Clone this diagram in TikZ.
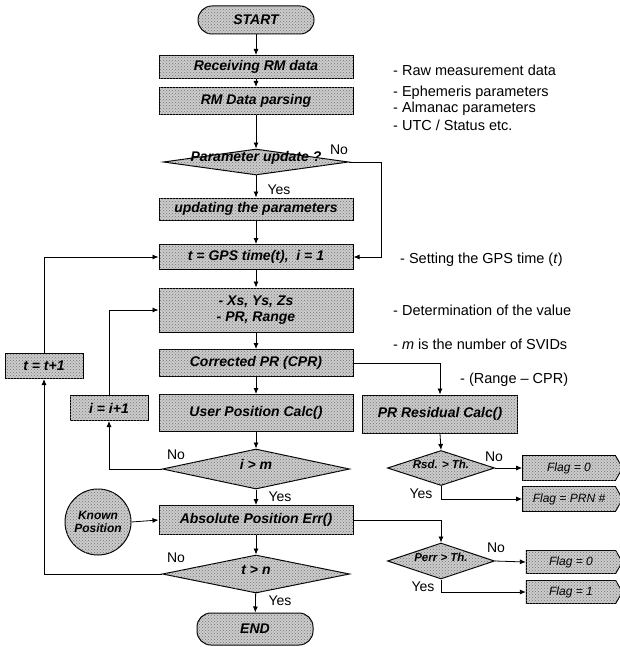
\documentclass[tikz,border=0pt]{standalone}
\usepackage{fontspec}
\setmainfont{Liberation Sans}
\usetikzlibrary{shapes.geometric,shapes.symbols,arrows.meta,patterns}

\begin{document}
\begin{tikzpicture}[x=1pt,y=-1pt,
  grain/.style={fill=black!20,postaction={pattern=crosshatch dots,pattern color=black!55}},
  proc/.style={draw,line width=1pt,grain,minimum width=194,inner sep=1pt,
    font=\bfseries\itshape\fontsize{14}{16}\selectfont,align=center},
  term/.style={proc,rounded corners=14,minimum width=116},
  dec/.style={draw,line width=1pt,grain,diamond,inner sep=0pt,
    font=\bfseries\itshape\fontsize{14}{16}\selectfont},
  sdec/.style={dec,font=\bfseries\itshape\fontsize{11.5}{13}\selectfont},
  flag/.style={draw,line width=0.9pt,grain,signal,signal to=east,signal pointer angle=120,
    inner sep=0pt,font=\itshape\fontsize{12}{13}\selectfont},
  note/.style={anchor=west,inner sep=0pt,font=\fontsize{14.5}{16}\selectfont},
  lab/.style={inner sep=0pt,font=\fontsize{14}{15}\selectfont},
  arr/.style={-{Latex[length=6pt,width=5pt]},line width=0.8pt}]
\useasboundingbox (0,0) rectangle (620,647);

% main column
\node[term,minimum height=28] (start) at (256,20) {START};
\node[proc,minimum height=23] (recv) at (256,67) {Receiving RM data};
\node[proc,minimum height=27] (parse) at (256,101) {RM Data parsing};
\node[dec,minimum width=185,minimum height=26] (upd) at (256,162) {\smash{\makebox[0pt]{Parameter update ?}}};
\node[proc,minimum height=22] (param) at (256,209) {updating the parameters};
\node[proc,minimum height=25] (gps) at (256,257) {t = GPS time(t), \ i = 1};
\node[proc,minimum height=44] (xyz) at (256,310) {- Xs, Ys, Zs\\- PR, Range};
\node[proc,minimum height=27] (cpr) at (256,363) {Corrected PR (CPR)};
\node[proc,minimum height=37] (upc) at (256,413) {User Position Calc()};
\node[dec,minimum width=187,minimum height=40] (im) at (256,469) {\smash{\makebox[0pt]{i > m}}};
\node[proc,minimum height=29] (abs) at (256,520) {Absolute Position Err()};
\node[dec,minimum width=187,minimum height=38] (tn) at (256,574) {\smash{\makebox[0pt]{t > n}}};
\node[term,minimum height=32] (end) at (255,629) {END};

% loop counters and reference input
\node[proc,minimum width=78,minimum height=25] (tinc) at (44,366) {t = t+1};
\node[proc,minimum width=78,minimum height=25] (iinc) at (109,408) {i = i+1};
\node[draw,line width=1pt,grain,circle,minimum size=66,inner sep=0pt,align=center,
  font=\bfseries\itshape\fontsize{12}{13}\selectfont] (known) at (98,522) {Known\\Position};

% residual and error checks
\node[proc,minimum width=155,minimum height=38] (prr) at (440,414) {PR Residual Calc()};
\node[sdec,minimum width=107,minimum height=35] (rsd) at (441,468) {\smash{\makebox[0pt]{Rsd. > Th.}}};
\node[flag,minimum width=100,minimum height=25] (f1) at (569,468) {Flag = 0};
\node[flag,minimum width=100,minimum height=25] (f2) at (569,499) {Flag = PRN \#};
\node[sdec,minimum width=107,minimum height=36] (perr) at (441,561) {\smash{\makebox[0pt]{Perr > Th.}}};
\node[flag,minimum width=96,minimum height=23] (f3) at (571,562) {Flag = 0};
\node[flag,minimum width=96,minimum height=23] (f4) at (571,592) {Flag = 1};

% main flow
\draw[arr] (start) -- (recv);
\draw[arr] (recv) -- (parse);
\draw[arr] (parse) -- (upd);
\draw[arr] (upd) -- (param);
\draw[arr] (param) -- (gps);
\draw[arr] (gps) -- (xyz);
\draw[arr] (xyz) -- (cpr);
\draw[arr] (cpr) -- (upc);
\draw[arr] (upc) -- (im);
\draw[arr] (im) -- (abs);
\draw[arr] (abs) -- (tn);
\draw[arr] (tn) -- (end);

% branches and loops
\coordinate (skip) at (381,162);
\draw[arr] (upd.east) -- (skip) |- (gps.east);
\draw[arr] (im.west) -| (iinc.south);
\draw[arr] (iinc.north) |- (xyz.west);
\draw[arr] (tn.west) -| (tinc.south);
\draw[arr] (tinc.north) |- (gps.west);
\draw[arr] (known.east) -- (abs.west);
\draw[arr] (cpr.east) -| (prr.north);
\draw[arr] (prr.south) -- (rsd.north);
\draw[arr] (rsd.east) -- (f1.west);
\draw[arr] (rsd.south) |- (f2.west);
\draw[arr] (abs.east) -| (perr.north);
\draw[arr] (perr.east) -- (f3.west);
\draw[arr] (perr.south) |- (f4.west);

% branch labels
\node[lab] at (339,150) {No};
\node[lab] at (279,190) {Yes};
\node[lab] at (176,455) {No};
\node[lab] at (280,497) {Yes};
\node[lab] at (176,558) {No};
\node[lab] at (280,601) {Yes};
\node[lab] at (494,457) {No};
\node[lab] at (421,494) {Yes};
\node[lab] at (496,548) {No};
\node[lab] at (423,587) {Yes};

% annotations
\node[note] at (393,70) {- Raw measurement data};
\node[note] at (393,93) {- Ephemeris parameters};
\node[note] at (393,109) {- Almanac parameters};
\node[note] at (393,125) {- UTC / Status etc.};
\node[note] at (400,260) {- Setting the GPS time (\textit{t})};
\node[note] at (393,310) {- Determination of the value};
\node[note] at (393,344) {- \textit{m} is the number of SVIDs};
\node[note] at (460,380) {- (Range -- CPR)};
\end{tikzpicture}
\end{document}
